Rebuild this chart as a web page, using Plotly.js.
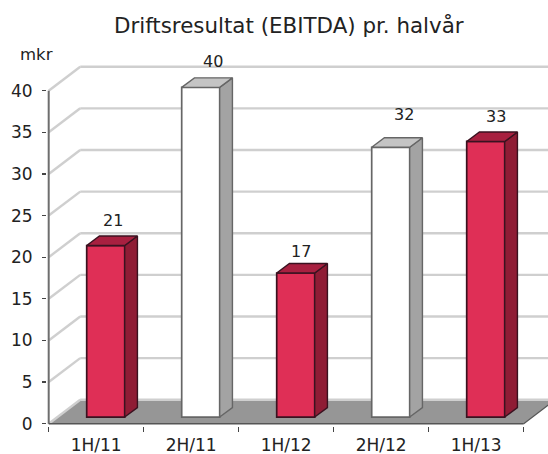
<!DOCTYPE html>
<html><head><meta charset="utf-8">
<script src="https://cdn.plot.ly/plotly-3.0.0.min.js"></script>
<style>html,body{margin:0;padding:0;background:#fff}</style></head>
<body><div id="chart" style="width:548px;height:454px"></div>
<script>
const categories = ['1H/11','2H/11','1H/12','2H/12','1H/13'];
const values = [20.6,39.6,17.3,32.4,33.1];
const valueLabels = ['21','40','17','32','33'];
const gridValues = [0,5,10,15,20,25,30,35,40];
const frontColors = ['#df2f56','#ffffff','#df2f56','#ffffff','#df2f56'];
const sideColors = ['#8f1c35','#a3a3a3','#8f1c35','#a3a3a3','#8f1c35'];
const topColors = ['#a82040','#c4c4c4','#a82040','#c4c4c4','#a82040'];
const edgeColors = ['#3a1220','#666666','#3a1220','#666666','#3a1220'];
const labelNudgeX = [7,12,5,13,10];
const labelNudgeY = [16,16,12,23,15];

const wallDX = 0.332, wallDY = 2.88;
const barShiftX = 0.1, barBase = 0.8, barWidth = 0.4, depthX = 0.134, depthY = 1.14;
const font = 'DejaVu Sans, Verdana, sans-serif';
const textColor = '#222222';

const centers = categories.map((_, i) => i + 0.5 + barShiftX);
const traces = [{
  type:'bar', x:centers, y:values, base:barBase, width:barWidth,
  marker:{color:frontColors, line:{color:edgeColors, width:1.7}},
  hoverinfo:'skip', showlegend:false
}];
categories.forEach((_, i) => {
  const L = centers[i]-barWidth/2, R = centers[i]+barWidth/2, T = barBase+values[i], B = barBase;
  traces.push({type:'scatter',mode:'lines',fill:'toself',fillcolor:sideColors[i],
    x:[R,R+depthX,R+depthX,R,R],y:[B,B+depthY,T+depthY,T,B],
    line:{color:edgeColors[i],width:1.4},hoverinfo:'skip',showlegend:false});
  traces.push({type:'scatter',mode:'lines',fill:'toself',fillcolor:topColors[i],
    x:[L,L+depthX,R+depthX,R,L],y:[T,T+depthY,T+depthY,T,T],
    line:{color:edgeColors[i],width:1.4},hoverinfo:'skip',showlegend:false});
});
traces.push({type:'scatter',mode:'lines',x:[0,0],y:[0,40],line:{color:'#6e6e6e',width:2},hoverinfo:'skip',showlegend:false});
traces.push({type:'scatter',mode:'lines',x:[0,categories.length],y:[0,0],line:{color:'#555555',width:1.5},hoverinfo:'skip',showlegend:false});
traces.push({type:'scatter',mode:'lines',x:[categories.length,categories.length+wallDX],y:[0,wallDY],line:{color:'#555555',width:1.2},hoverinfo:'skip',showlegend:false});

const shapes = [];
shapes.push({type:'path',layer:'below',xref:'x',yref:'y',
  path:`M0,0 L${categories.length},0 L${categories.length+wallDX},${wallDY} L${wallDX},${wallDY} Z`,
  fillcolor:'#969696',line:{width:0}});
gridValues.forEach(v => {
  shapes.push({type:'line',layer:'below',xref:'x',yref:'y',x0:wallDX,x1:6,y0:v+wallDY,y1:v+wallDY,line:{color:'#cfcfcf',width:2.4}});
  shapes.push({type:'line',layer:'below',xref:'x',yref:'y',x0:0,x1:wallDX,y0:v,y1:v+wallDY,line:{color:'#cfcfcf',width:2.4}});
});

const annotations = values.map((v,i)=>({
  x:centers[i], y:barBase+v+depthY, xref:'x', yref:'y', text:valueLabels[i], showarrow:false,
  xanchor:'center', yanchor:'middle', xshift:labelNudgeX[i], yshift:labelNudgeY[i],
  font:{family:font,size:16,color:textColor}
}));
annotations.push({xref:'paper',yref:'paper',x:-0.0559,xanchor:'left',y:0.9138,yanchor:'middle',text:'mkr',showarrow:false,borderpad:0,font:{family:font,size:16.5,color:textColor}});

const layout = {
  width:548,height:454,autosize:false,paper_bgcolor:'#fff',plot_bgcolor:'#fff',
  margin:{l:47,r:0,t:20,b:28,pad:0},
  title:{text:'Driftsresultat (EBITDA) pr. halvår',font:{family:font,size:21.4,color:textColor},x:0.527,xanchor:'center',y:0.943,yanchor:'middle'},
  bargap:0,showlegend:false,
  xaxis:{type:'linear',range:[-0.0179,5.2558],showgrid:false,zeroline:false,showline:false,
    tickvals:categories.map((_,i)=>i+0.5),ticktext:categories,ticks:'',ticklen:0,ticklabelstandoff:7,
    tickfont:{family:font,size:17,color:textColor},
    minor:{tickvals:[0,1,2,3,4,5],ticks:'outside',ticklen:5,tickwidth:1.3,tickcolor:'#444444',showgrid:false}},
  yaxis:{type:'linear',range:[-0.276,48.49],showgrid:false,zeroline:false,showline:false,
    tickvals:gridValues,ticktext:gridValues.map(String),ticks:'outside',ticklen:4,tickwidth:1.3,tickcolor:'#444444',ticklabelstandoff:6,
    tickfont:{family:font,size:17,color:textColor}},
  shapes,annotations
};
Plotly.newPlot('chart',traces,layout,{displayModeBar:false,staticPlot:true});
</script></body></html>
